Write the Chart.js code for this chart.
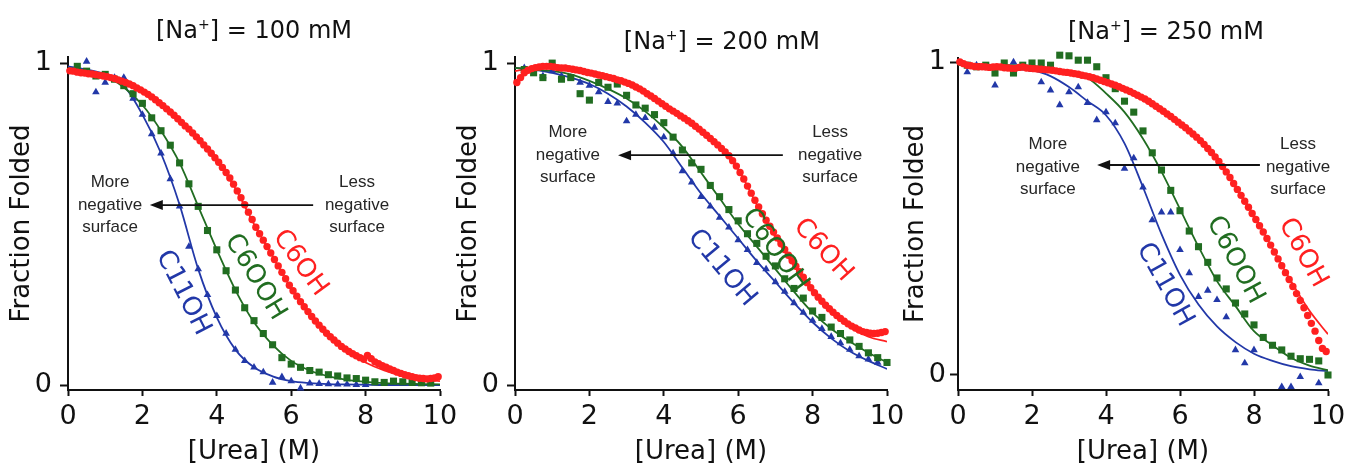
<!DOCTYPE html>
<html>
<head>
<meta charset="utf-8">
<script src="https://cdn.jsdelivr.net/npm/chart.js@4.4.1/dist/chart.umd.min.js"></script>
<style>
  html, body { margin: 0; padding: 0; background: #fff; }
  #wrap { position: relative; width: 1350px; height: 470px; overflow: hidden; }
  .panel { position: absolute; top: 0; height: 470px; }
</style>
</head>
<body>
<div id="wrap">
  <div class="panel" style="left:0"><canvas id="c100" width="475" height="470"></canvas></div>
  <div class="panel" style="left:450px"><canvas id="c200" width="475" height="470"></canvas></div>
  <div class="panel" style="left:900px"><canvas id="c250" width="450" height="470"></canvas></div>
</div>
<script>
// x values (urea, M)
const fitX = [0,0.5,1,1.5,2,2.5,3,3.5,4,4.5,5,5.5,6,6.5,7,7.5,8,8.5,9,9.5,10];
const redX = [0.05,0.15,0.25,0.35,0.45,0.55,0.65,0.75,0.85,0.95,
              1.05,1.15,1.25,1.35,1.45,1.55,1.65,1.75,1.85,1.95,
              2.05,2.15,2.25,2.35,2.45,2.55,2.65,2.75,2.85,2.95,
              3.05,3.15,3.25,3.35,3.45,3.55,3.65,3.75,3.85,3.95,
              4.05,4.15,4.25,4.35,4.45,4.55,4.65,4.75,4.85,4.95,
              5.05,5.15,5.25,5.35,5.45,5.55,5.65,5.75,5.85,5.95,
              6.05,6.15,6.25,6.35,6.45,6.55,6.65,6.75,6.85,6.95,
              7.05,7.15,7.25,7.35,7.45,7.55,7.65,7.75,7.85,7.95,
              8.05,8.15,8.25,8.35,8.45,8.55,8.65,8.75,8.85,8.95,
              9.05,9.15,9.25,9.35,9.45,9.55,9.65,9.75,9.85,9.95];
const quarterX = [0.25,0.5,0.75,1,1.25,1.5,1.75,2,2.25,2.5,
                  2.75,3,3.25,3.5,3.75,4,4.25,4.5,4.75,5,
                  5.25,5.5,5.75,6,6.25,6.5,6.75,7,7.25,7.5,
                  7.75,8,8.25,8.5,8.75,9,9.25,9.5,9.75,10];

const xTicks = [0, 2, 4, 6, 8, 10];
const yTicks = [0, 1];
const seriesNames = ['C6OH', 'C6OOH', 'C11OH'];

// [Na+] = 100 mM
const na100Red = [0.976,0.975,0.972,0.97,0.969,0.967,0.966,0.964,0.962,0.96,
                  0.958,0.955,0.952,0.948,0.944,0.94,0.935,0.93,0.923,0.917,
                  0.91,0.903,0.895,0.886,0.877,0.868,0.858,0.848,0.838,0.827,
                  0.816,0.805,0.795,0.783,0.771,0.759,0.746,0.733,0.72,0.706,
                  0.692,0.676,0.66,0.643,0.624,0.603,0.582,0.56,0.537,0.514,
                  0.49,0.47,0.45,0.43,0.41,0.39,0.37,0.35,0.33,0.31,
                  0.293,0.276,0.259,0.243,0.228,0.213,0.199,0.186,0.173,0.161,
                  0.15,0.14,0.13,0.12,0.112,0.104,0.097,0.091,0.085,0.08,
                  0.092,0.082,0.072,0.066,0.06,0.055,0.05,0.045,0.04,0.036,
                  0.032,0.029,0.026,0.023,0.021,0.02,0.019,0.02,0.022,0.026];
const na100RedFit = [0.98,0.972,0.96,0.94,0.91,0.87,0.82,0.765,0.70,0.61,0.50,0.40,0.30,0.22,0.155,0.105,0.07,0.045,0.028,0.018,0.012];
const na100Green = [0.99,0.975,0.96,0.965,0.95,0.93,0.905,0.875,0.83,0.79,
                    0.745,0.69,0.625,0.555,0.48,0.42,0.355,0.295,0.24,0.2,
                    0.16,0.125,0.085,0.065,0.055,0.045,0.04,0.032,0.028,0.022,
                    0.02,0.015,0.01,0.008,0.012,0.01,0.008,0.007,0.006,null];
const na100GreenFit = [0.985,0.975,0.96,0.925,0.87,0.79,0.69,0.555,0.42,0.295,0.195,0.125,0.075,0.045,0.027,0.016,0.01,0.006,0.004,0.003,0.002];
const na100Blue = [0.985,1.005,0.91,0.94,0.955,0.955,0.89,0.84,0.78,0.72,
                   0.64,0.555,0.43,0.36,0.28,0.215,0.16,0.11,0.075,0.055,
                   0.04,0.008,0.025,0.012,-0.01,0.005,0.004,0.003,0.002,0.002,
                   0.001,0.001,null,null,null,null,null,null,null,null];
const na100BlueFit = [0.99,0.98,0.965,0.93,0.84,0.72,0.56,0.36,0.21,0.11,0.055,0.027,0.012,0.006,0.003,0.002,0.001,0,0,0,0];

// [Na+] = 200 mM
const na200Red = [0.94,0.955,0.97,0.978,0.983,0.986,0.988,0.99,0.99,0.99,
                  0.988,0.986,0.985,0.985,0.983,0.981,0.979,0.977,0.974,0.971,
                  0.969,0.966,0.963,0.961,0.958,0.955,0.952,0.948,0.945,0.941,
                  0.937,0.932,0.926,0.92,0.913,0.905,0.898,0.89,0.882,0.874,
                  0.866,0.858,0.851,0.844,0.836,0.829,0.821,0.813,0.804,0.795,
                  0.785,0.776,0.766,0.756,0.746,0.735,0.724,0.712,0.697,0.68,
                  0.66,0.64,0.618,0.596,0.574,0.553,0.532,0.512,0.493,0.475,
                  0.457,0.439,0.421,0.403,0.386,0.369,0.352,0.335,0.318,0.302,
                  0.287,0.273,0.26,0.248,0.237,0.226,0.216,0.207,0.198,0.19,
                  0.183,0.177,0.171,0.166,0.163,0.161,0.16,0.161,0.163,0.166];
const na200RedFit = [0.975,0.985,0.985,0.98,0.97,0.955,0.94,0.905,0.865,0.83,0.785,0.74,0.67,0.56,0.46,0.37,0.29,0.225,0.18,0.15,0.135];
const na200Green = [0.98,0.97,0.955,1.0,0.95,0.955,0.905,0.885,0.94,0.925,
                    0.935,0.90,0.87,0.86,0.84,0.815,0.77,0.73,0.69,0.67,
                    0.62,0.585,0.545,0.51,0.47,0.44,0.40,0.37,0.33,0.30,
                    0.27,0.23,0.21,0.18,0.16,0.14,0.12,0.10,0.085,0.07];
const na200GreenFit = [0.985,0.98,0.975,0.965,0.945,0.92,0.89,0.85,0.80,0.74,0.66,0.58,0.50,0.43,0.36,0.29,0.225,0.175,0.135,0.10,0.07];
const na200Blue = [0.985,0.98,0.96,0.975,0.96,0.955,0.94,0.93,0.91,0.88,
                   0.875,0.82,0.84,0.83,0.80,0.77,0.72,0.665,0.63,0.585,
                   0.555,0.52,0.49,0.45,0.42,0.38,0.36,0.32,0.29,0.255,
                   0.225,0.20,0.175,0.15,0.13,0.11,0.09,0.08,0.07,null];
const na200BlueFit = [0.985,0.98,0.97,0.955,0.935,0.905,0.865,0.815,0.755,0.675,0.595,0.525,0.455,0.385,0.32,0.255,0.195,0.145,0.105,0.075,0.05];

// [Na+] = 250 mM
const na250Red = [1.0,0.995,0.99,0.988,0.986,0.985,0.985,0.984,0.983,0.984,
                  0.985,0.984,0.982,0.981,0.98,0.98,0.983,0.984,0.981,0.98,
                  0.979,0.978,0.977,0.976,0.975,0.974,0.972,0.97,0.968,0.967,
                  0.965,0.963,0.961,0.958,0.956,0.953,0.95,0.946,0.942,0.938,
                  0.934,0.93,0.926,0.921,0.916,0.911,0.906,0.9,0.894,0.888,
                  0.882,0.875,0.867,0.859,0.851,0.843,0.834,0.826,0.817,0.808,
                  0.799,0.79,0.78,0.77,0.76,0.749,0.737,0.724,0.711,0.697,
                  0.682,0.666,0.649,0.631,0.612,0.593,0.574,0.555,0.536,0.516,
                  0.497,0.477,0.457,0.436,0.415,0.393,0.371,0.349,0.327,0.305,
                  0.283,0.26,0.238,0.215,0.19,0.165,0.14,0.11,0.085,0.075];
const na250RedFit = [0.995,0.993,0.99,0.988,0.985,0.98,0.97,0.958,0.94,0.915,0.885,0.845,0.80,0.755,0.69,0.605,0.51,0.405,0.30,0.205,0.13];
const na250Green = [0.99,0.985,0.99,0.965,0.997,0.965,0.99,0.997,0.997,0.99,
                    1.022,1.02,1.006,1.006,0.985,0.95,0.915,0.875,0.84,0.78,
                    0.71,0.655,0.59,0.525,0.46,0.41,0.36,0.31,0.275,0.23,
                    0.195,0.16,0.12,0.095,0.08,0.06,0.052,0.05,0.045,0.0];
const na250GreenFit = [0.99,0.99,0.99,0.99,0.988,0.98,0.97,0.95,0.90,0.84,0.755,0.65,0.53,0.41,0.30,0.22,0.14,0.095,0.055,0.03,0.015];
const na250Blue = [0.968,0.99,0.985,0.926,0.99,1.0,0.98,0.975,0.936,0.91,
                   0.863,0.904,0.92,0.87,0.815,0.84,0.805,0.66,0.693,0.60,
                   0.495,0.52,0.52,0.40,0.326,0.25,0.27,0.24,0.185,0.08,
                   0.038,0.08,null,null,-0.038,-0.038,-0.006,null,-0.026,null];
const na250BlueFit = [0.99,0.99,0.988,0.985,0.975,0.955,0.92,0.875,0.83,0.74,0.60,0.45,0.32,0.225,0.155,0.105,0.068,0.045,0.028,0.018,0.012];

const RED = '#ff2020', GREEN = '#216d21', BLUE = '#2238a8';
const INK = '#111';

const panels = [
  { id: 'c100', conc: '100 mM', red: na100Red, redFit: na100RedFit, green: na100Green, greenFit: na100GreenFit, blue: na100Blue, blueFit: na100BlueFit,
    yMin: -0.0155, yMax: 1.019, yWidth: 68, padRight: 35, padTop: 57, yTitlePad: 7, yTickPad: 8, titleAt: 5.0, titleY: 32,
    arrow: [6.59, 2.20, 0.559], more: [1.13, 0.559], less: [7.77, 0.559],
    labelPos: [[6.24, 0.379, 54], [5.03, 0.335, 59], [3.09, 0.286, 63]] },
  { id: 'c200', conc: '200 mM', red: na200Red, redFit: na200RedFit, green: na200Green, greenFit: na200GreenFit, blue: na200Blue, blueFit: na200BlueFit,
    yMin: -0.0155, yMax: 1.019, yWidth: 65, padRight: 38, padTop: 57, yTitlePad: 4, yTickPad: 8, titleAt: 5.56, titleY: 43,
    arrow: [7.20, 2.77, 0.714], more: [1.42, 0.714], less: [8.47, 0.714],
    labelPos: [[8.28, 0.419, 48], [6.99, 0.419, 54], [5.56, 0.363, 50]] },
  { id: 'c250', conc: '250 mM', red: na250Red, redFit: na250RedFit, green: na250Green, greenFit: na250GreenFit, blue: na250Blue, blueFit: na250BlueFit,
    yMin: -0.048, yMax: 1.013, yWidth: 58, padRight: 22, padTop: 58, yTitlePad: 1, yTickPad: 4, titleAt: 5.62, titleY: 33,
    arrow: [8.16, 3.76, 0.671], more: [2.43, 0.665], less: [9.19, 0.665],
    labelPos: [[9.32, 0.39, 61], [7.49, 0.367, 62], [5.59, 0.288, 61]] }
];

function pairs(xs, ys) {
  const out = [];
  xs.forEach((x, i) => { if (ys[i] !== null) out.push({ x: x, y: ys[i] }); });
  return out;
}

function drawTitle(ctx, cx, cy, conc) {
  const big = '24px "DejaVu Sans"', small = '14px "DejaVu Sans"';
  const a = '[Na', sup = '+', b = '] = ' + conc;
  ctx.font = big;
  const wa = ctx.measureText(a).width, wb = ctx.measureText(b).width;
  ctx.font = small;
  const ws = ctx.measureText(sup).width;
  let x = cx - (wa + ws + wb) / 2;
  ctx.fillStyle = INK;
  ctx.textAlign = 'left';
  ctx.textBaseline = 'middle';
  ctx.font = big; ctx.fillText(a, x, cy); x += wa;
  ctx.font = small; ctx.fillText(sup, x, cy - 7); x += ws;
  ctx.font = big; ctx.fillText(b, x, cy);
}

function drawNote(ctx, cx, cy, lines) {
  ctx.save();
  ctx.font = '17px "Liberation Sans", Arial, sans-serif';
  ctx.fillStyle = '#262626';
  ctx.textAlign = 'center';
  ctx.textBaseline = 'middle';
  lines.forEach((t, i) => ctx.fillText(t, cx, cy + (i - 1) * 22.5));
  ctx.restore();
}

function annotations(p) {
  return {
    id: 'notes_' + p.id,
    afterDatasetsDraw(chart) {
      const ctx = chart.ctx, xs = chart.scales.x, ys = chart.scales.y;
      ctx.save();
      drawTitle(ctx, xs.getPixelForValue(p.titleAt), p.titleY, p.conc);

      // arrow: less negative -> more negative
      const ay = ys.getPixelForValue(p.arrow[2]);
      const x0 = xs.getPixelForValue(p.arrow[0]), x1 = xs.getPixelForValue(p.arrow[1]);
      ctx.strokeStyle = INK; ctx.fillStyle = INK; ctx.lineWidth = 1.8;
      ctx.beginPath(); ctx.moveTo(x0, ay); ctx.lineTo(x1 + 8, ay); ctx.stroke();
      ctx.beginPath(); ctx.moveTo(x1, ay); ctx.lineTo(x1 + 13, ay - 5); ctx.lineTo(x1 + 13, ay + 5); ctx.closePath(); ctx.fill();

      drawNote(ctx, xs.getPixelForValue(p.more[0]), ys.getPixelForValue(p.more[1]), ['More', 'negative', 'surface']);
      drawNote(ctx, xs.getPixelForValue(p.less[0]), ys.getPixelForValue(p.less[1]), ['Less', 'negative', 'surface']);

      const cols = [RED, GREEN, BLUE];
      p.labelPos.forEach((l, i) => {
        ctx.save();
        ctx.translate(xs.getPixelForValue(l[0]), ys.getPixelForValue(l[1]));
        ctx.rotate(l[2] * Math.PI / 180);
        ctx.font = '26px "DejaVu Sans"';
        ctx.fillStyle = cols[i];
        ctx.textAlign = 'center';
        ctx.textBaseline = 'middle';
        ctx.fillText(seriesNames[i], 0, 0);
        ctx.restore();
      });
      ctx.restore();
    }
  };
}

panels.forEach(p => {
  const pts = (xs, ys, style, r, col) => ({
    data: pairs(xs, ys), pointStyle: style, pointRadius: r, pointBorderWidth: 0,
    backgroundColor: col, borderColor: col, clip: false
  });
  const fit = (ys, col) => ({
    data: pairs(fitX, ys), showLine: true, pointRadius: 0, borderColor: col, borderWidth: 1.8,
    cubicInterpolationMode: 'monotone', fill: false
  });
  new Chart(document.getElementById(p.id), {
    type: 'scatter',
    data: {
      datasets: [
        pts(redX, p.red, 'circle', 3.7, RED),
        pts(quarterX, p.green, 'rect', 5, GREEN),
        pts(quarterX, p.blue, 'triangle', 4.4, BLUE),
        fit(p.redFit, RED),
        fit(p.greenFit, GREEN),
        fit(p.blueFit, BLUE)
      ]
    },
    options: {
      responsive: false,
      animation: false,
      events: [],
      layout: { autoPadding: false, padding: { top: p.padTop, right: p.padRight, left: 0, bottom: 0 } },
      plugins: { legend: { display: false }, tooltip: { enabled: false }, title: { display: false } },
      scales: {
        x: {
          type: 'linear', min: 0, max: 10,
          afterBuildTicks: s => { s.ticks = xTicks.map(v => ({ value: v })); },
          afterFit: s => { s.height = 80; s.paddingLeft = 0; s.paddingRight = 0; },
          border: { display: true, color: INK, width: 2 },
          grid: { display: true, drawOnChartArea: false, drawTicks: true, tickLength: 6, tickWidth: 2, tickColor: INK },
          ticks: { color: INK, font: { family: 'DejaVu Sans', size: 27 }, padding: 5, maxRotation: 0, autoSkip: false },
          title: { display: true, text: '[Urea] (M)', color: INK, font: { family: 'DejaVu Sans', size: 26 }, padding: { top: 0, bottom: 2 } }
        },
        y: {
          type: 'linear', min: p.yMin, max: p.yMax,
          afterBuildTicks: s => { s.ticks = yTicks.map(v => ({ value: v })); },
          afterFit: s => { s.width = p.yWidth; s.paddingTop = 0; s.paddingBottom = 0; },
          border: { display: true, color: INK, width: 2 },
          grid: { display: true, drawOnChartArea: false, drawTicks: true, tickLength: 8, tickWidth: 2, tickColor: INK },
          ticks: { color: INK, font: { family: 'DejaVu Sans', size: 27 }, padding: p.yTickPad, autoSkip: false },
          title: { display: true, text: 'Fraction Folded', color: INK, font: { family: 'DejaVu Sans', size: 26 }, padding: { top: p.yTitlePad, bottom: 0 } }
        }
      }
    },
    plugins: [annotations(p)]
  });
});
</script>
</body>
</html>
